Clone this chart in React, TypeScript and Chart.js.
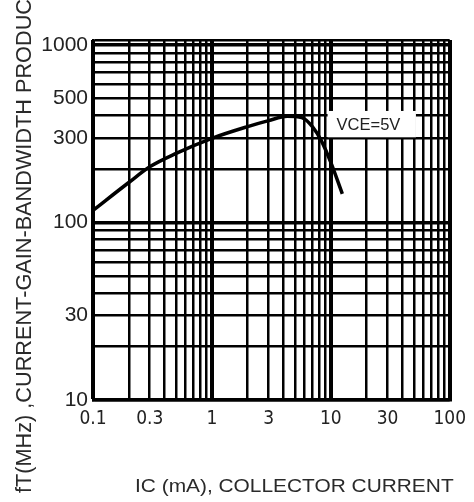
import React, { useEffect, useRef } from "react";
import { Chart, registerables } from "chart.js";

Chart.register(...registerables);

// ---- data ----
const IC_MA = [0.1, 0.2, 0.3, 0.5, 1, 2, 3, 4.3, 5.7, 7, 8.3, 10, 12.5];
const FT_MHZ = [117, 168, 206, 245, 298, 347, 375, 397, 390, 347, 290, 218, 145];

const X_LABELS = [0.1, 0.3, 1, 3, 10, 30, 100];
const Y_LABELS = [10, 30, 100, 300, 500, 1000];

const X_MIN = 0.1;
const X_MAX = 100;
const Y_MIN = 10;
const Y_MAX = 1067;

const X_TITLE = "IC (mA), COLLECTOR CURRENT";
const Y_TITLE = "fT(MHz) ,CURRENT-GAIN-BANDWIDTH PRODUCT";
const NOTE_TEXT = "VCE=5V";
const NOTE_X = [9.4, 52];
const NOTE_Y = [302, 425];

function logTicks(min: number, max: number): number[] {
  const out: number[] = [];
  const d0 = Math.floor(Math.log10(min));
  const d1 = Math.ceil(Math.log10(max));
  for (let d = d0; d <= d1; d++) {
    for (let m = 1; m < 10; m++) {
      const v = parseFloat((m * Math.pow(10, d)).toPrecision(6));
      if (v >= min * 0.999 && v <= max * 1.001) out.push(v);
    }
  }
  return out;
}

const isIn = (arr: number[], v: number) => arr.some((l) => Math.abs(l - v) / l < 1e-6);
const isDecade = (v: number) => Math.abs(Math.log10(v) - Math.round(Math.log10(v))) < 1e-6;

const decor = {
  id: "decor",
  beforeDatasetsDraw(chart: any) {
    const { ctx, scales } = chart;
    const x0 = scales.x.getPixelForValue(NOTE_X[0]);
    const x1 = scales.x.getPixelForValue(NOTE_X[1]);
    const y0 = scales.y.getPixelForValue(NOTE_Y[1]);
    const y1 = scales.y.getPixelForValue(NOTE_Y[0]);
    ctx.save();
    ctx.fillStyle = "#ffffff";
    ctx.fillRect(x0, y0, x1 - x0, y1 - y0);
    ctx.fillStyle = "#222";
    ctx.font = "16.5px 'Liberation Sans', Arial, sans-serif";
    ctx.textBaseline = "middle";
    ctx.textAlign = "left";
    ctx.fillText(NOTE_TEXT, x0 + 9, (y0 + y1) / 2 + 1);
    ctx.restore();
  },
  afterDraw(chart: any) {
    const { ctx } = chart;
    ctx.save();
    ctx.fillStyle = "#2a2a2a";
    // x title
    ctx.font = "18px 'Liberation Sans', Arial, sans-serif";
    ctx.textBaseline = "middle";
    ctx.textAlign = "left";
    ctx.save();
    ctx.translate(135, 487);
    ctx.scale(1.16, 1);
    ctx.fillText(X_TITLE, 0, 0);
    ctx.restore();
    // y title
    ctx.save();
    ctx.translate(25, 493);
    ctx.rotate(-Math.PI / 2);
    ctx.font = "21.7px 'Liberation Sans', Arial, sans-serif";
    ctx.textAlign = "left";
    ctx.textBaseline = "middle";
    ctx.fillText(Y_TITLE, 0, 0);
    ctx.restore();
    ctx.restore();
  },
};

export default function App() {
  const ref = useRef<HTMLCanvasElement>(null);

  useEffect(() => {
    document.body.style.margin = "0";
    const chart = new Chart(ref.current as HTMLCanvasElement, {
      type: "line",
      data: {
        datasets: [
          {
            data: IC_MA.map((x, i) => ({ x, y: FT_MHZ[i] })),
            borderColor: "#000",
            borderWidth: 3.5,
            pointRadius: 0,
            cubicInterpolationMode: "monotone",
            fill: false,
          },
        ],
      },
      options: {
        animation: false,
        responsive: false,
        devicePixelRatio: 1,
        layout: { padding: { top: 40, right: 16, left: 0, bottom: 0 } },
        plugins: {
          legend: { display: false },
          tooltip: { enabled: false },
        },
        scales: {
          x: {
            type: "logarithmic",
            min: X_MIN,
            max: X_MAX,
            afterFit: (s: any) => {
              s.height = 102;
            },
            afterBuildTicks: (s: any) => {
              s.ticks = logTicks(X_MIN, X_MAX).map((v) => ({ value: v }));
            },
            grid: {
              color: "#000",
              lineWidth: (c: any) => (c.tick && isDecade(c.tick.value) ? 4 : 2.5),
              drawTicks: false,
            },
            border: { display: true, color: "#000", width: 2.5 },
            ticks: {
              autoSkip: false,
              maxRotation: 0,
              padding: 8,
              color: "#222",
              font: { family: "'Liberation Sans Narrow', 'Arial Narrow', 'DejaVu Sans Condensed', sans-serif", size: 19 },
              callback: (v: any) => (isIn(X_LABELS, Number(v)) ? String(Number(v)) : ""),
            },
          },
          y: {
            type: "logarithmic",
            min: Y_MIN,
            max: Y_MAX,
            afterFit: (s: any) => {
              s.width = 93;
            },
            afterBuildTicks: (s: any) => {
              s.ticks = [...logTicks(Y_MIN, 1000), Y_MAX].map((v) => ({ value: v }));
            },
            grid: {
              color: "#000",
              lineWidth: (c: any) => (c.tick && isDecade(c.tick.value) ? 3.5 : 2.5),
              drawTicks: false,
            },
            border: { display: true, color: "#000", width: 2.5 },
            ticks: {
              autoSkip: false,
              padding: 5,
              color: "#222",
              font: { family: "'Liberation Sans', Arial, sans-serif", size: 21 },
              callback: (v: any) => (isIn(Y_LABELS, Number(v)) ? String(Number(v)) : ""),
            },
          },
        },
      },
      plugins: [decor],
    });
    return () => chart.destroy();
  }, []);

  return (
    <div style={{ width: 474, height: 502 }}>
      <canvas ref={ref} width={474} height={502} style={{ display: "block" }} />
    </div>
  );
}
